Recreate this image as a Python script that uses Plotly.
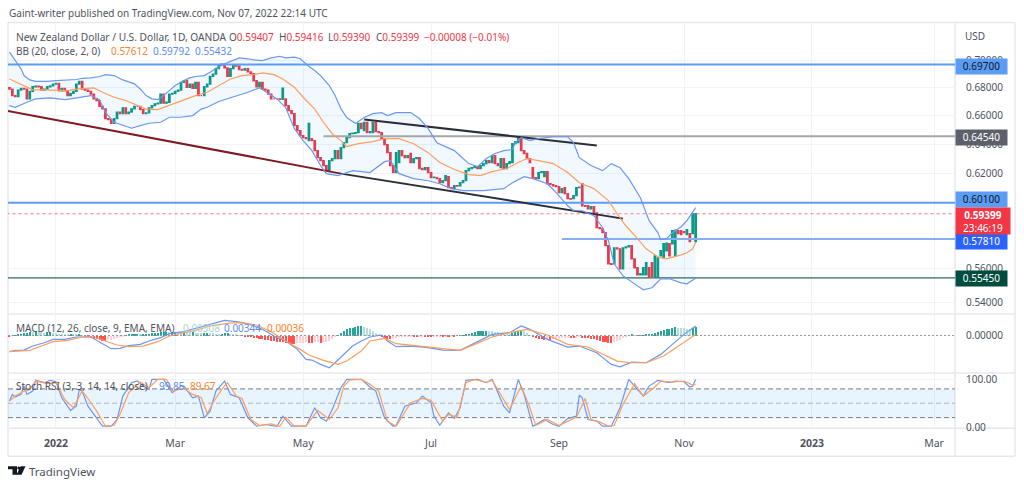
import math
import plotly.graph_objects as go

opens = [
.6800,.6789,.6741,.6734,.6782,.6794,.6789,.6718,.6772,.6806,.6811,.6806,.6782,.6789,.6806,.6813,.6825,.6830,.6777,.6794,
.6777,.6741,.6758,.6772,.6825,.6845,.6789,.6782,.6772,.6753,.6718,.6706,.6664,.6647,.6578,.6571,.6544,.6578,.6624,.6613,
.6654,.6613,.6624,.6647,.6664,.6664,.6641,.6613,.6618,.6654,.6670,.6682,.6687,.6753,.6687,.6694,.6753,.6758,.6772,.6782,
.6838,.6850,.6801,.6825,.6794,.6838,.6741,.6741,.6806,.6825,.6882,.6898,.6940,.6965,.6973,.6945,.6882,.6940,.6965,.6958,
.6933,.6928,.6940,.6915,.6903,.6850,.6806,.6838,.6789,.6782,.6753,.6718,.6718,.6718,.6715,.6718,
.6670,.6634,.6613,.6528,.6493,.6458,.6445,.6424,.6438,.6424,.6356,.6308,.6288,.6255,.6221,.6288,.6302,.6356,.6302,.6376,
.6410,.6445,.6472,.6475,.6479,.6543,.6493,.6550,.6479,.6479,.6550,.6486,.6479,.6438,.6397,.6342,.6255,.6208,.6275,.6356,
.6322,.6308,.6336,.6275,.6302,.6308,.6235,.6228,.6241,.6208,.6174,.6174,.6168,.6141,.6154,.6181,.6108,.6102,.6121,.6121,
.6141,.6154,.6221,.6235,.6241,.6248,.6235,.6255,.6268,.6288,.6275,.6322,.6268,.6241,.6302,.6235,.6268,.6275,.6403,.6410,
.6445,.6356,.6336,.6302,.6241,.6174,.6168,.6208,.6181,.6214,.6134,.6128,.6121,.6115,.6076,.6108,.6069,.6037,.6037,.6056,
.6108,.6134,.5991,.5991,.5972,.5985,.5946,.5852,.5846,.5821,.5740,.5630,.5630,.5727,.5721,.5600,.5727,.5733,.5740,.5660,
.5606,.5564,.5564,.5564,.5606,.5636,.5552,.5552,.5678,.5666,.5709,.5752,.5752,.5678,.5833,.5833,.5827,.5808,.5815,.5815,
.5765,.59407]
closes = [
.6789,.6741,.6734,.6782,.6794,.6789,.6718,.6772,.6806,.6811,.6806,.6782,.6789,.6806,.6813,.6825,.6830,.6777,.6794,.6777,
.6741,.6758,.6772,.6825,.6845,.6789,.6782,.6772,.6753,.6718,.6706,.6664,.6647,.6578,.6571,.6544,.6578,.6624,.6613,.6654,
.6613,.6624,.6647,.6664,.6664,.6641,.6613,.6618,.6654,.6670,.6682,.6687,.6753,.6687,.6694,.6753,.6758,.6772,.6782,.6838,
.6850,.6801,.6825,.6794,.6838,.6741,.6741,.6806,.6825,.6882,.6898,.6940,.6965,.6973,.6945,.6882,.6940,.6965,.6958,.6933,
.6928,.6940,.6915,.6903,.6850,.6806,.6838,.6789,.6782,.6753,.6718,.6718,.6718,.6715,.6796,.6670,
.6634,.6613,.6528,.6493,.6458,.6445,.6438,.6543,.6424,.6356,.6308,.6288,.6255,.6221,.6288,.6302,.6356,.6302,.6376,.6410,
.6445,.6472,.6475,.6479,.6543,.6507,.6550,.6479,.6486,.6550,.6486,.6479,.6438,.6397,.6342,.6255,.6208,.6342,.6356,.6322,
.6308,.6322,.6275,.6302,.6308,.6235,.6228,.6241,.6208,.6174,.6177,.6168,.6141,.6154,.6188,.6108,.6102,.6121,.6118,.6141,
.6154,.6221,.6235,.6241,.6248,.6235,.6255,.6268,.6288,.6275,.6322,.6268,.6255,.6302,.6235,.6268,.6281,.6403,.6417,.6445,
.6356,.6336,.6302,.6275,.6174,.6168,.6208,.6214,.6214,.6134,.6128,.6121,.6115,.6076,.6102,.6069,.6037,.6034,.6056,.6108,
.6112,.5991,.5988,.5972,.5985,.5946,.5852,.5846,.5821,.5740,.5630,.5627,.5727,.5721,.5600,.5727,.5733,.5740,.5660,.5606,
.5564,.5570,.5606,.5636,.5552,.5555,.5678,.5666,.5709,.5752,.5755,.5678,.5833,.5836,.5815,.5808,.5821,.5840,.5765,.5940,
.59399]
# current bar's quoted extremes
last_high = 0.59416
last_low = 0.59390

bb_upper_x = [0,2,4,5,7,9,13,16,20,23,25,28,31,33,36,39,43,45,47,49,51,53,55,57,60,62,64,67,69,71,74,76,79,82,84,87,90,93,95,98,100,103,105,107,110,112,114,116,119,122,125,128,130,133,138,141,144,147,151,153,156,158,161,164,167,170,173,174,176,179,182,187,192,194,196,200,204,207,210,213,217,220,223,224,226,228,231,233,236]
bb_upper = [.7063,.7000,.6938,.6888,.6856,.6845,.6845,.6851,.6856,.6859,.6868,.6871,.6881,.6895,.6888,.6856,.6827,.6790,.6742,.6718,.6713,.6742,.6778,.6815,.6851,.6871,.6881,.6888,.6912,.6942,.6975,.6995,.7020,.7013,.7005,.7000,.7020,.7032,.7020,.7025,.7013,.6955,.6925,.6888,.6815,.6742,.6648,.6585,.6543,.6585,.6613,.6620,.6599,.6620,.6620,.6578,.6507,.6410,.6376,.6356,.6302,.6268,.6248,.6302,.6336,.6356,.6363,.6410,.6445,.6424,.6438,.6451,.6451,.6410,.6308,.6255,.6221,.6268,.6241,.6168,.6043,.5896,.5821,.5778,.5784,.5821,.5858,.5896,.59792]
bb_basis_x = [0,4,8,12,16,20,24,27,29,32,36,40,44,47,51,54,58,61,64,68,71,76,80,84,87,91,94,98,101,105,108,111,114,116,120,125,129,134,139,144,148,153,158,162,166,171,175,178,182,187,192,196,201,206,209,212,216,219,223,226,231,233,235,236]
bb_basis = [.6863,.6820,.6783,.6783,.6778,.6778,.6790,.6798,.6798,.6766,.6730,.6706,.6670,.6645,.6641,.6663,.6694,.6718,.6742,.6766,.6803,.6863,.6888,.6895,.6908,.6895,.6863,.6803,.6730,.6645,.6552,.6472,.6424,.6383,.6403,.6417,.6438,.6438,.6403,.6342,.6275,.6228,.6194,.6188,.6214,.6235,.6275,.6302,.6288,.6268,.6208,.6141,.6102,.6024,.5940,.5864,.5784,.5721,.5672,.5660,.5684,.5697,.5721,.57612]
bb_lower_x = [0,2,6,9,14,19,22,25,28,31,33,36,40,42,45,48,52,55,59,63,66,68,72,77,82,86,92,95,98,101,104,107,109,113,118,124,129,131,134,139,144,148,152,156,163,170,173,177,180,185,188,192,194,197,201,204,206,208,211,215,218,221,224,227,231,233,236]
bb_lower = [.6670,.6658,.6694,.6718,.6725,.6713,.6722,.6730,.6742,.6711,.6622,.6552,.6521,.6510,.6528,.6545,.6552,.6587,.6587,.6599,.6645,.6658,.6699,.6730,.6766,.6798,.6718,.6656,.6507,.6424,.6356,.6255,.6201,.6188,.6221,.6208,.6281,.6288,.6201,.6168,.6154,.6134,.6102,.6089,.6089,.6102,.6141,.6181,.6168,.6134,.6076,.5991,.5959,.5959,.5928,.5852,.5771,.5630,.5558,.5510,.5475,.5487,.5540,.5540,.5516,.5510,.55432]

macd_x = [0,2,5,8,12,15,19,23,28,31,35,38,41,45,48,52,55,60,64,69,74,78,82,87,92,95,99,102,104,107,110,112,115,118,121,124,128,130,133,138,144,149,155,161,166,172,176,179,185,192,196,202,207,210,214,219,224,228,232,236]
macd_line = [-.00585,-.00537,-.00525,-.0038,-.0026,-.00139,-.00139,-.00054,-.00054,-.00223,-.00477,-.00465,-.00368,-.0032,-.00199,-.00078,.00066,.00139,.0026,.00404,.00549,.00501,.00428,.00223,-.00078,-.00199,-.00501,-.00863,-.00887,-.01044,-.01165,-.00984,-.00682,-.0038,-.00199,-.00054,.00018,-.00199,-.00404,-.0038,-.00441,-.00525,-.00537,-.00223,.00042,.00103,.00344,.00223,-.00139,-.00416,-.0038,-.00622,-.01044,-.01129,-.0096,-.00984,-.00682,-.0032,.00042,.00344]
signal_x = [0,4,7,11,15,20,25,29,33,37,41,46,51,55,60,64,69,75,79,85,90,95,100,103,108,113,116,121,124,129,133,140,148,155,160,166,172,178,185,192,199,204,209,214,219,225,231,236]
signal_line = [-.00585,-.00561,-.00537,-.0038,-.00223,-.00175,-.00054,-.00054,-.00199,-.00344,-.00404,-.0038,-.00223,-.00018,.00103,.00187,.00344,.00441,.00465,.0038,.00139,-.00199,-.00501,-.00706,-.00899,-.01044,-.00923,-.00561,-.00199,-.00103,-.00296,-.0038,-.00477,-.00537,-.0032,-.00054,.00103,.00223,.00018,-.0032,-.00416,-.00682,-.00923,-.00984,-.00984,-.00742,-.0032,.00036]
macd_hist = [
-.0002,-.0001,.0001,.0005,.0006,.0008,.0010,.0012,.0011,.0013,.0012,.0011,.0010,.0011,.0012,.0010,.0009,
.0007,.0006,.0005,.0004,.0004,.0003,.0002,.0002,.0001,-.0002,-.0005,-.0009,-.0012,-.0014,-.0016,-.0018,-.0018,-.0017,-.0015,
-.0012,-.0010,-.0007,-.0004,.0001,.0002,.0003,.0003,.0004,.0003,.0004,.0005,.0006,.0008,.0009,.0010,.0011,.0012,.0013,.0012,.0013,.0014,
.0013,.0012,.0013,.0012,.0011,.0012,.0010,.0009,.0008,.0009,.0010,.0009,.0008,.0007,.0006,.0007,.0008,.0009,.0007,.0005,.0003,.0001,-.0001,-.0003,
-.0005,-.0007,-.0008,-.0010,-.0012,-.0014,-.0015,-.0016,-.0018,-.0020,-.0022,-.0024,-.0025,-.0027,-.0028,-.0029,-.0030,
-.0028,-.0027,-.0026,-.0025,-.0026,-.0027,-.0025,-.0024,-.0026,-.0025,-.0022,-.0018,-.0012,-.0005,.0001,.0009,.0016,.0022,.0026,.0029,.0031,.0033,
.0033,.0030,.0027,.0022,.0016,.0010,.0004,-.0004,-.0008,-.0012,-.0013,-.0012,
-.0008,-.0006,-.0005,-.0004,-.0003,-.0002,-.0004,-.0005,-.0003,-.0002,-.0003,-.0004,-.0005,-.0004,-.0003,-.0002,-.0003,-.0002,-.0002,-.0001,-.0002,-.0001,-.0001,
.0001,.0004,.0007,.0010,.0013,.0015,.0016,.0017,.0018,.0017,.0016,.0014,.0012,.0010,.0008,.0006,.0005,.0009,.0013,.0016,.0018,.0015,.0008,.0001,
-.0005,-.0009,-.0012,-.0014,-.0015,-.0013,-.0015,-.0014,-.0013,-.0012,-.0010,-.0009,-.0008,-.0008,-.0009,-.0008,-.0007,-.0008,-.0009,-.0010,-.0012,
-.0014,-.0016,-.0019,-.0022,-.0025,-.0027,-.0028,-.0025,-.0020,-.0015,-.0009,-.0004,.0001,.0002,.0001,-.0001,.0001,.0001,.0002,
.0004,.0007,.0010,.0013,.0016,.0019,.0022,.0025,.0028,.0030,.0028,.0027,.0026,.0025,.0023,.0027,.00308]

stoch_k_x = [0,1,2,4,5,6,8,9,12,14,16,18,21,23,24,25,27,29,32,35,37,39,42,44,46,48,49,53,56,59,60,63,65,67,69,71,74,76,79,82,85,88,92,94,97,102,105,107,109,111,114,116,121,124,126,129,132,133,136,140,142,145,146,148,151,153,155,157,161,164,166,170,172,175,177,180,184,187,189,192,195,196,197,199,202,204,207,210,213,215,218,220,223,227,229,232,234,235,236]
stoch_k = [54.5,68.5,63,68.5,86,68.5,75.5,98,93,98,95,61.5,35,44,79,75.5,44,26.6,2,2,16,65,93,96.5,86,79,100,100,72,86,86,61.5,65,19.6,33.6,75.5,96.5,68.5,61.5,19.6,2,5.6,2,23,2,2,40.6,19.6,12.6,37,82.5,100,100,84,75.5,19.6,2,4,44,51,65,51,23,4,30,18,40.6,98,100,93,100,44,30,100,68.5,2,16,5.6,2,18,23,67,61.5,16,12.6,2,2,40.6,100,86,65,86,98,93,96.5,95,84,86,99.85]
stoch_d_x = [0,2,5,7,9,13,16,19,22,25,27,30,33,36,38,41,45,48,51,54,56,60,63,66,68,70,73,75,78,80,83,86,90,93,95,98,102,106,110,113,115,117,121,124,127,130,133,136,138,142,145,149,151,154,157,160,164,166,170,172,176,179,181,185,189,195,198,200,203,206,208,211,215,218,222,224,228,232,235,236]
stoch_d = [54.5,65,75.5,79,96.5,91,93,58,40.6,75.5,60,33.6,2,3.5,26.6,72,94.4,82.5,100,100,75.5,81,68.5,61.5,28,51,79,93,65,60,16,3.5,7,2,21,2,2,35,16,40.6,86,98.6,100,89.5,75.5,12.6,2,30,51,60,56,12.6,26.6,21,93,100,94,98,58,37,86,40.6,3.5,16,3.5,21,60,16,11,2,3.5,47.5,91,65,84,96.5,94.4,96.5,88,89.67]

level_prices = [0.697, 0.6454, 0.601, 0.5781, 0.5545]
level_labels = ["0.69700", "0.64540", "0.60100", "0.57810", "0.55450"]
level_starts = [-1, 108, -1, 190, -1]
last_price = 0.59399
trend_red_x, trend_red_y = [-1, 114], [.6634, .6201]
trend_low_x, trend_low_y = [114, 211], [.6201, .5909]
trend_up_x, trend_up_y = [122, 202], [.6571, .6390]

price_ticks = [0.54, 0.56, 0.62, 0.64, 0.66, 0.68, 0.70]
time_ticks = [16, 57, 101, 145, 189, 232, 276, 318]
time_labels = ["<b>2022</b>", "Mar", "May", "Jul", "Sep", "Nov", "<b>2023</b>", "Mar"]

W, H = 1024, 485
PL, PR = 8, 955
BLUE, ORANGE = "#6b97f2", "#ff9d5c"
TEXT = "#50535e"
GRID = "#f0f3fa"
FONT = "Noto Sans"
GREEN, RED = "#089981", "#f23645"
XR = [-0.5, 325.2]


def fx(x):
    return x / W


def fy(y):
    return 1 - ((y - 1.5) / 0.984) / H


n = len(closes)
idx = list(range(n))
highs = [max(o, c) for o, c in zip(opens, closes)]
lows = [min(o, c) for o, c in zip(opens, closes)]
highs[-1], lows[-1] = last_high, last_low

fig = go.Figure()


def line(x, y, color, width=1.0, axis=1, dash=None):
    fig.add_trace(go.Scatter(x=x, y=y, mode="lines", hoverinfo="skip", showlegend=False,
                             line=dict(color=color, width=width, dash=dash),
                             xaxis="x" if axis == 1 else f"x{axis}",
                             yaxis="y" if axis == 1 else f"y{axis}"))


fig.add_trace(go.Scatter(x=bb_upper_x + bb_lower_x[::-1], y=bb_upper + bb_lower[::-1], mode="lines",
                         fill="toself", fillcolor="rgba(33,150,243,0.06)", line=dict(width=0),
                         hoverinfo="skip", showlegend=False))
for p, s in zip(level_prices, level_starts):
    if p == 0.6454:
        c, w = "#a6a6a8", 2
    elif p == 0.5545:
        c, w = "#2f6b5c", 1.2
    elif p == 0.5781:
        c, w = "#86aef5", 2
    else:
        c, w = "#5b9cf6", 2
    line([s, XR[1]], [p, p], c, w)
line([-1, XR[1]], [last_price, last_price], "#f77c85", 1, dash="dot")
line(trend_red_x, trend_red_y, "#801922", 2)
line(trend_low_x, trend_low_y, "#2a2e39", 2)
line(trend_up_x, trend_up_y, "#2a2e39", 2)
fig.add_trace(go.Candlestick(x=idx, open=opens, high=highs, low=lows, close=closes, whiskerwidth=0,
                             increasing=dict(line=dict(color=GREEN, width=1.3), fillcolor=GREEN),
                             decreasing=dict(line=dict(color=RED, width=1.3), fillcolor=RED),
                             hoverinfo="skip", showlegend=False))
line(bb_upper_x, bb_upper, BLUE, 1.2)
line(bb_lower_x, bb_lower, BLUE, 1.2)
line(bb_basis_x, bb_basis, ORANGE, 1.2)

# MACD pane
hist_colors = []
for i, v in enumerate(macd_hist):
    prev = macd_hist[i - 1] if i else v
    if v >= 0:
        hist_colors.append("#26a69a" if v >= prev else "#b2dfdb")
    else:
        hist_colors.append("#ff5252" if v <= prev else "#ffcdd2")
fig.add_trace(go.Bar(x=idx, y=macd_hist, marker=dict(color=hist_colors, line=dict(width=0)), width=0.7,
                     xaxis="x2", yaxis="y2", hoverinfo="skip", showlegend=False))
line([XR[0], XR[1]], [0, 0], "#9598a1", 1, axis=2, dash="2px,2px")
line(macd_x, macd_line, BLUE, 1.2, axis=2)
line(signal_x, signal_line, ORANGE, 1.2, axis=2)

# Stoch RSI pane
fig.add_trace(go.Scatter(x=[XR[0], XR[1], XR[1], XR[0]], y=[20, 20, 80, 80], fill="toself", mode="lines",
                         fillcolor="rgba(33,150,243,0.1)", line=dict(width=0), xaxis="x3", yaxis="y3",
                         hoverinfo="skip", showlegend=False))
for lv, col in [(80, "#787b86"), (50, "#b2b5be"), (20, "#787b86")]:
    line([XR[0], XR[1]], [lv, lv], col, 1, axis=3, dash="5px,3px")
line(stoch_k_x, stoch_k, BLUE, 1.2, axis=3)
line(stoch_d_x, stoch_d, ORANGE, 1.2, axis=3)

xbase = dict(range=XR, tickvals=time_ticks, ticktext=time_labels, showgrid=True, gridcolor=GRID, gridwidth=1,
             zeroline=False, showline=False, rangeslider=dict(visible=False))
price_text = [f"{p:.5f}" for p in price_ticks]
tickfont = dict(family=FONT, size=10, color=TEXT)
yside = dict(side="right", ticks="outside", ticklen=8, tickcolor="rgba(0,0,0,0)", tickfont=tickfont,
             showline=False, zeroline=False)
fig.update_layout(
    width=W, height=H, autosize=False, margin=dict(l=0, r=0, t=0, b=0),
    paper_bgcolor="white", plot_bgcolor="white", showlegend=False, bargap=0,
    font=dict(family=FONT, color=TEXT),
    xaxis=dict(domain=[fx(PL), fx(PR)], anchor="y", showticklabels=False, ticks="", **xbase),
    xaxis2=dict(domain=[fx(PL), fx(PR)], anchor="y2", showticklabels=False, ticks="", **xbase),
    xaxis3=dict(domain=[fx(PL), fx(PR)], anchor="y3", showticklabels=True, ticks="outside", ticklen=5,
                tickcolor="rgba(0,0,0,0)", tickfont=dict(family=FONT, size=10.5, color=TEXT), **xbase),
    yaxis=dict(type="log", domain=[fy(313), fy(23)], anchor="x", range=[math.log10(.5335), math.log10(.7283)],
               tickvals=price_ticks, ticktext=price_text, showgrid=True, gridcolor=GRID, **yside),
    yaxis2=dict(domain=[fy(372), fy(313)], anchor="x2", range=[-.01358, .00778], tickvals=[0],
                ticktext=["0.00000"], showgrid=False, **yside),
    yaxis3=dict(domain=[fy(427), fy(373)], anchor="x3", range=[-2.1, 111], tickvals=[0, 100],
                ticktext=["0.00", "100.00"], showgrid=True, gridcolor=GRID, **yside),
)

shapes = []
LINE = "#e6e8ef"
for x0, y0, x1, y1 in [(8, 22, 1015, 22), (8, 455, 1015, 455), (8, 22, 8, 455), (1015, 22, 1015, 455),
                       (8, 313, 1015, 313), (8, 372, 1015, 372), (8, 427, 1015, 427), (955, 22, 955, 455)]:
    shapes.append(dict(type="line", xref="paper", yref="paper", x0=fx(x0), y0=fy(y0), x1=fx(x1), y1=fy(y1),
                       line=dict(color=LINE, width=1.5), layer="below"))
# TradingView mark
logo = "M {a} {t} L {b} {t} L {c} {v} L {d} {v} L {d} {t2} L {a} {t2} Z".format(
    a=fx(8), b=fx(17), c=fx(17), d=fx(12.5), t=fy(465), t2=fy(468), v=fy(473.5))
shapes.append(dict(type="path", xref="paper", yref="paper", path=logo, fillcolor="#131722", line=dict(width=0)))
shapes.append(dict(type="path", xref="paper", yref="paper", line=dict(width=0), fillcolor="#131722",
                   path=f"M {fx(20.5)} {fy(465)} L {fx(25.5)} {fy(465)} L {fx(21.5)} {fy(473.5)} L {fx(16.5)} {fy(473.5)} Z"))
shapes.append(dict(type="circle", xref="paper", yref="paper", x0=fx(17.2), x1=fx(20.2), y0=fy(468.2), y1=fy(465.2),
                   fillcolor="#131722", line=dict(width=0)))
fig.update_layout(shapes=shapes)


def note(x, y, text, size=10, color=TEXT, **kw):
    fig.add_annotation(xref="paper", yref="paper", x=fx(x), y=fy(y), text=text, showarrow=False, xanchor="left",
                       yanchor="middle", font=dict(family=FONT, size=size, color=color), align="left",
                       borderpad=0, **kw)


def span(t, c):
    return f'<span style="color:{c}">{t}</span>'


note(8, 12, "Gaint-writer published on TradingView.com, Nov 07, 2022 22:14 UTC", 10, "#50535e")
note(15, 36, "New Zealand Dollar / U.S. Dollar, 1D, OANDA", 10.2)
for x, t in [(228, "O" + span("0.59407", RED)), (278, "H" + span("0.59416", RED)), (327, "L" + span("0.59390", RED)),
             (375, "C" + span("0.59399", RED)), (423, span("−0.00008 (−0.01%)", RED))]:
    note(x, 36, t)
note(15, 50, "BB (20, close, 2, 0)")
note(110, 50, "0.57612", color="#ff7f2a")
note(152, 50, "0.59792", color="#5b8def")
note(194, 50, "0.55432", color="#5b8def")
note(15, 327, "MACD (12, 26, close, 9, EMA, EMA)")
note(182, 327, "0.00308", color="#a9d8d2")
note(223, 327, "0.00344", color="#5b8def")
note(266, 327, "0.00036", color="#ff7f2a")
note(15, 385, "Stoch RSI (3, 3, 14, 14, close)")
note(158, 385, "99.85", color="#5b8def")
note(189, 385, "89.67", color="#ff7f2a")
note(28, 470, "TradingView", 11.5, "#50535e")
note(964, 35, "USD", 10, TEXT)

tag_styles = [("#5b9cf6", "#131722", 65.5), ("#5d606b", "white", 136.5), ("#5b9cf6", "#131722", 199),
              ("#2962ff", "white", 240.5), ("#004d40", "white", 278)]
for lab, (bg, fg, yc) in zip(level_labels, tag_styles):
    fig.add_annotation(xref="paper", yref="paper", x=fx(955), y=fy(yc), text=lab, showarrow=False, xanchor="left",
                       yanchor="middle", width=51, height=14.5, bgcolor=bg, align="center", borderpad=0,
                       font=dict(family=FONT, size=10, color=fg))
fig.add_annotation(xref="paper", yref="paper", x=fx(955), y=fy(220), text=f"<b>{last_price:.5f}</b><br>23:46:19",
                   showarrow=False, xanchor="left", yanchor="middle", width=54, height=26, bgcolor=RED,
                   align="center", borderpad=0, font=dict(family=FONT, size=10, color="white"))

fig.write_html("out.html", config=dict(displayModeBar=False, responsive=False),
               post_script=("document.documentElement.style.cssText='margin:0;padding:0;height:485px;overflow:hidden';"
                            "document.body.style.cssText='margin:0;padding:0;height:485px;overflow:hidden';"
                            "var g=document.querySelector('.plotly-graph-div');g.style.display='block';"
                            "g.parentElement.style.cssText='height:485px;overflow:hidden;margin:0';"))
